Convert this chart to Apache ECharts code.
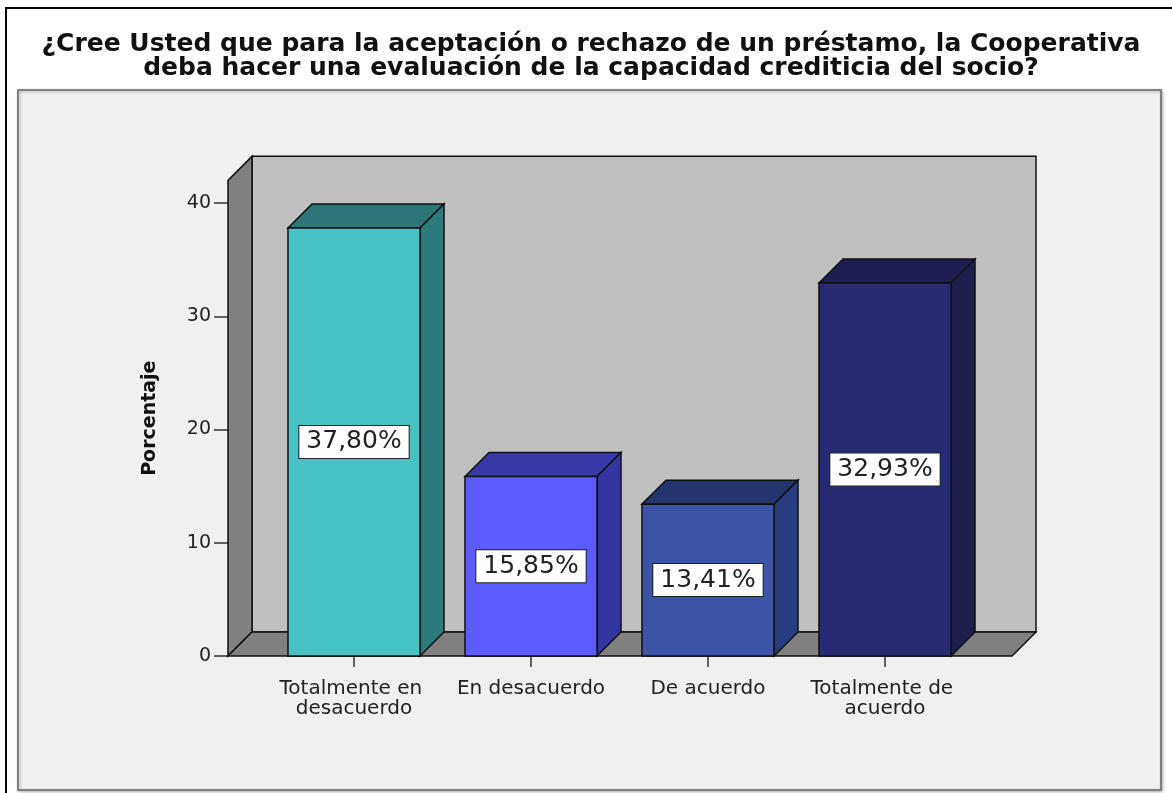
<!DOCTYPE html>
<html>
<head>
<meta charset="utf-8">
<script src="https://cdn.jsdelivr.net/npm/echarts@6/dist/echarts.min.js"></script>
<style>
  html, body { margin: 0; padding: 0; background: #fff; }
  #chart { width: 1172px; height: 793px; }
</style>
</head>
<body>
<div id="chart"></div>
<script>
var categories = ['Totalmente en desacuerdo', 'En desacuerdo', 'De acuerdo', 'Totalmente de acuerdo'];
var percents = [37.80, 15.85, 13.41, 32.93];
var yTicks = [0, 10, 20, 30, 40];
var barColors = [
  { front: '#47c2c4', top: '#2d7577', side: '#2d7a7b' },
  { front: '#5b5bff', top: '#3838a8', side: '#3535a0' },
  { front: '#3b54a6', top: '#243570', side: '#283c80' },
  { front: '#282a74', top: '#1c1d50', side: '#1c1e4c' }
];

var DEPTH = 24;      // 3d offset in px
var WALL_L = 37.5;   // floor extends left of grid
var WALL_R = 38.5;   // floor extends right of grid
var BAR_W = 0.746;   // bar width, share of the band

var chart = echarts.init(document.getElementById('chart'));

function renderBar(params, api) {
  var i = params.dataIndex;
  var cs = params.coordSys;
  var band = api.size([1, 0])[0];
  var base = api.coord([i, 0]);
  var top = api.coord([i, api.value(1)]);
  var w = band * BAR_W;
  var x0 = base[0] - w / 2, x1 = base[0] + w / 2;
  var y0 = top[1], y1 = base[1];
  var d = DEPTH;
  var c = barColors[i];
  var line = { stroke: '#111', lineWidth: 1.5 };
  var kids = [];

  if (i === 0) {
    var fl = cs.x - WALL_L, fr = cs.x + cs.width + WALL_R;
    var ft = cs.y, fb = cs.y + cs.height;
    kids.push({
      type: 'rect',
      shape: { x: fl + d, y: ft - d, width: fr - fl, height: fb - ft },
      style: { fill: '#c0c0c0', stroke: '#111', lineWidth: 1.5 }
    });
    kids.push({
      type: 'polygon',
      shape: { points: [[fl, fb], [fl, ft], [fl + d, ft - d], [fl + d, fb - d]] },
      style: { fill: '#808080', stroke: '#111', lineWidth: 1.5 }
    });
    kids.push({
      type: 'polygon',
      shape: { points: [[fl, fb], [fr, fb], [fr + d, fb - d], [fl + d, fb - d]] },
      style: { fill: '#808080', stroke: '#111', lineWidth: 1.5 }
    });
  }

  kids.push({
    type: 'polygon',
    shape: { points: [[x0, y0], [x0 + d, y0 - d], [x1 + d, y0 - d], [x1, y0]] },
    style: echarts.util.extend({ fill: c.top }, line)
  });
  kids.push({
    type: 'polygon',
    shape: { points: [[x1, y0], [x1 + d, y0 - d], [x1 + d, y1 - d], [x1, y1]] },
    style: echarts.util.extend({ fill: c.side }, line)
  });
  kids.push({
    type: 'rect',
    shape: { x: x0, y: y0, width: w, height: y1 - y0 },
    style: echarts.util.extend({ fill: c.front }, line)
  });
  kids.push({
    type: 'text',
    x: base[0],
    y: (y0 + y1) / 2,
    style: {
      text: api.value(1).toFixed(2).replace('.', ',') + '%',
      fontFamily: 'DejaVu Sans',
      fontSize: 25,
      fill: '#222',
      align: 'center',
      verticalAlign: 'middle',
      backgroundColor: '#fff',
      borderColor: '#222',
      borderWidth: 1,
      padding: [4, 7, 3, 7]
    }
  });
  return { type: 'group', children: kids };
}

var option = {
  backgroundColor: '#fff',
  animation: false,
  graphic: [
    { type: 'rect', z: -10, shape: { x: 6, y: 8, width: 1200, height: 800 },
      style: { fill: '#fff', stroke: '#000', lineWidth: 2 } },
    { type: 'rect', z: -9, shape: { x: 18, y: 90, width: 1143, height: 700 },
      style: { fill: '#f0f0f0', stroke: '#808080', lineWidth: 2,
               shadowColor: 'rgba(0,0,0,0.25)', shadowBlur: 3, shadowOffsetX: 1, shadowOffsetY: 1 } }
  ],
  title: {
    text: '¿Cree Usted que para la aceptación o rechazo de un préstamo, la Cooperativa\ndeba hacer una evaluación de la capacidad crediticia del socio?',
    left: 586,
    top: 27,
    textAlign: 'center',
    textStyle: {
      fontFamily: 'DejaVu Sans',
      fontWeight: 'bold',
      fontSize: 25,
      lineHeight: 24,
      color: '#111'
    }
  },
  grid: { left: 265.5, right: 198.5, top: 180.35, bottom: 137 },
  xAxis: {
    type: 'category',
    data: categories,
    axisLine: { show: false },
    axisTick: { show: true, alignWithLabel: true, length: 11, lineStyle: { color: '#333', width: 1.5 } },
    axisLabel: {
      margin: 23,
      fontFamily: 'DejaVu Sans',
      fontSize: 20,
      lineHeight: 20,
      color: '#222',
      width: 165,
      overflow: 'break',
      interval: 0
    }
  },
  yAxis: {
    type: 'value',
    min: yTicks[0],
    max: 42,
    interval: 10,
    offset: WALL_L,
    name: 'Porcentaje',
    nameLocation: 'middle',
    nameRotate: 90,
    nameGap: 68,
    nameTextStyle: { fontFamily: 'DejaVu Sans', fontWeight: 'bold', fontSize: 19, color: '#111' },
    splitLine: { show: false },
    axisLine: { show: false },
    axisTick: { show: true, length: 14, customValues: yTicks, lineStyle: { color: '#333', width: 1.5 } },
    axisLabel: {
      margin: 17,
      fontFamily: 'DejaVu Sans',
      fontSize: 19,
      color: '#222',
      customValues: yTicks
    }
  },
  series: [{
    type: 'custom',
    clip: false,
    renderItem: renderBar,
    encode: { x: 0, y: 1 },
    data: percents.map(function (v, i) { return [i, v]; })
  }]
};

chart.setOption(option);
</script>
</body>
</html>
